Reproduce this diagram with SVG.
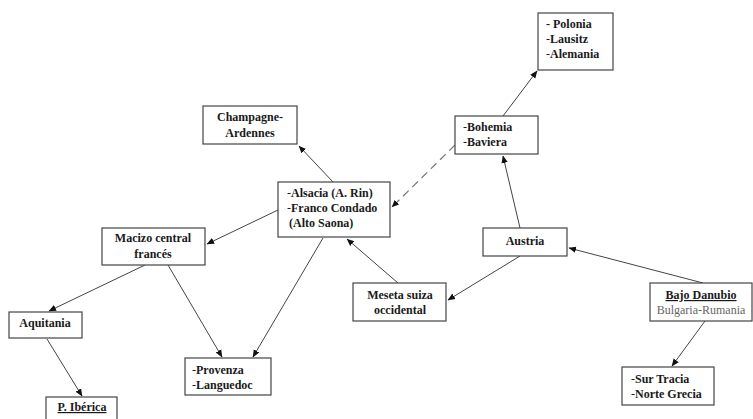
<svg xmlns="http://www.w3.org/2000/svg" width="753" height="419" viewBox="0 0 753 419">
<defs>
<marker id="ah" markerWidth="8" markerHeight="8" refX="7" refY="4" orient="auto" markerUnits="userSpaceOnUse">
<path d="M0,0.8 L7.5,4 L0,7.2 Z" fill="#111"/>
</marker>
<style>
rect.box{fill:#fff;stroke:#444;stroke-width:1.2}
text{font-family:"Liberation Serif","Times New Roman",serif;font-size:12px;font-weight:bold;fill:#1a1a1a}
text.c{text-anchor:middle}
.h{font-weight:normal}
.g{font-weight:normal;fill:#666}
.u{text-decoration:underline}
line.e{stroke:#444;stroke-width:1;marker-end:url(#ah)}
line.d{stroke:#777;stroke-width:1.2;stroke-dasharray:8,5;marker-end:url(#ah)}
</style>
</defs>
<rect width="753" height="419" fill="#fff"/>
<g id="connectors">
<line class="e" x1="333" y1="182" x2="299" y2="146"/>
<line class="e" x1="503" y1="116" x2="537" y2="71"/>
<line class="d" x1="455" y1="145" x2="392" y2="207"/>
<line class="e" x1="520" y1="228" x2="503" y2="156"/>
<line class="e" x1="703" y1="283" x2="569" y2="248"/>
<line class="e" x1="520" y1="256" x2="448" y2="300"/>
<line class="e" x1="398" y1="283" x2="347" y2="239"/>
<line class="e" x1="278" y1="210" x2="207" y2="244"/>
<line class="e" x1="323" y1="238" x2="253" y2="357"/>
<line class="e" x1="168" y1="265" x2="222" y2="357"/>
<line class="e" x1="145" y1="265" x2="49" y2="311"/>
<line class="e" x1="47" y1="339" x2="82" y2="396"/>
<line class="e" x1="705" y1="321" x2="672" y2="366"/>
</g>
<g id="polonia">
<rect class="box" x="538" y="13" width="75" height="57"/>
<text x="546" y="28">- Polonia</text>
<text x="546" y="43"><tspan class="h">-</tspan>Lausitz</text>
<text x="546" y="58"><tspan class="h">-</tspan>Alemania</text>
</g>
<g id="champagne">
<rect class="box" x="203" y="106" width="94" height="38"/>
<text class="c" x="250" y="121">Champagne-</text>
<text class="c" x="250" y="137">Ardennes</text>
</g>
<g id="bohemia">
<rect class="box" x="455" y="116" width="83" height="38"/>
<text x="463" y="131"><tspan class="h">-</tspan>Bohemia</text>
<text x="463" y="146"><tspan class="h">-</tspan>Baviera</text>
</g>
<g id="alsacia">
<rect class="box" x="278" y="182" width="112" height="55"/>
<text x="287" y="197"><tspan class="h">-</tspan>Alsacia (A. Rin)</text>
<text x="287" y="212"><tspan class="h">-</tspan>Franco Condado</text>
<text x="289" y="227">(Alto Saona)</text>
</g>
<g id="macizo">
<rect class="box" x="102" y="228" width="103" height="37"/>
<text class="c" x="153" y="242">Macizo central</text>
<text class="c" x="153" y="258">francés</text>
</g>
<g id="austria">
<rect class="box" x="483" y="228" width="84" height="28"/>
<text class="c" x="525" y="245">Austria</text>
</g>
<g id="meseta">
<rect class="box" x="353" y="283" width="93" height="38"/>
<text class="c" x="400" y="299">Meseta suiza</text>
<text class="c" x="400" y="314">occidental</text>
</g>
<g id="bajodanubio">
<rect class="box" x="650" y="283" width="102" height="38"/>
<text class="c u" x="701" y="299">Bajo Danubio</text>
<text class="c g" x="701" y="314">Bulgaria-Rumania</text>
</g>
<g id="aquitania">
<rect class="box" x="9" y="312" width="73" height="26"/>
<text class="c" x="45" y="327">Aquitania</text>
</g>
<g id="provenza">
<rect class="box" x="185" y="358" width="86" height="37"/>
<text x="192" y="374"><tspan class="h">-</tspan>Provenza</text>
<text x="192" y="389"><tspan class="h">-</tspan>Languedoc</text>
</g>
<g id="surtracia">
<rect class="box" x="622" y="367" width="92" height="38"/>
<text x="631" y="383"><tspan class="h">-</tspan>Sur Tracia</text>
<text x="631" y="398"><tspan class="h">-</tspan>Norte Grecia</text>
</g>
<g id="iberica">
<rect class="box" x="46" y="397" width="71" height="30"/>
<text class="c u" x="82" y="411">P. Ibérica</text>
</g>
</svg>
